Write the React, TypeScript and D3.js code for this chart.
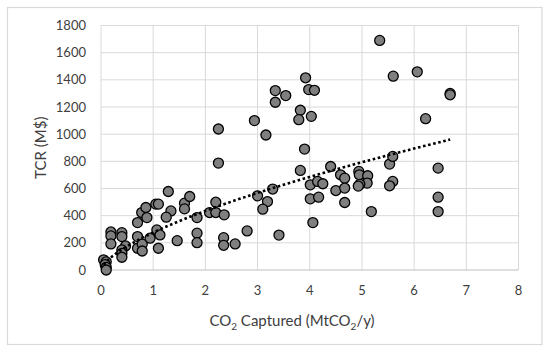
import { useEffect, useRef } from "react";
import * as d3 from "d3";

// CO2 captured (Mt/y) vs total capital requirement (M$)
const capturedX = [
  0.05, 0.1, 0.08, 0.1, 0.1,
  0.19, 0.19, 0.19, 0.4, 0.4, 0.47, 0.4, 0.4, 0.4,
  0.7, 0.7, 0.7, 0.79, 0.79, 0.78, 0.86, 0.88, 0.94, 1.07, 1.13, 1.1, 1.05, 1.1,
  1.29, 1.34, 1.25, 1.46, 1.6, 1.6, 1.7, 1.84, 1.84, 1.84,
  2.25, 2.25, 2.2, 2.08, 2.2, 2.36, 2.35, 2.35, 2.57, 2.8,
  2.94, 3.16, 3.0, 3.29, 3.19, 3.1, 3.34, 3.34, 3.54, 3.41,
  3.92, 3.98, 4.09, 3.82, 3.79, 4.03, 3.9, 3.82, 4.01, 4.15, 4.25, 4.01, 4.17, 4.06,
  4.4, 4.59, 4.67, 4.5, 4.67, 4.67, 4.94, 4.95, 5.11, 5.1, 4.96, 4.93, 5.18,
  5.34, 5.6, 6.06, 6.69, 6.69, 6.22, 5.53, 5.59, 5.59, 5.53, 6.46, 6.46, 6.46,
];
const tcrY = [
  75, 60, 40, 20, 0,
  280, 251, 192, 275, 246, 177, 148, 123, 94,
  349, 246, 160, 190, 140, 423, 460, 386, 234, 295, 258, 160, 485, 485,
  578, 435, 389, 216, 492, 450, 541, 386, 271, 201,
  1038, 787, 499, 423, 423, 406, 238, 182, 192, 288,
  1100, 994, 546, 596, 504, 448, 1321, 1235, 1284, 257,
  1415, 1328, 1323, 1176, 1107, 1131, 890, 733, 627, 652, 635, 524, 536, 349,
  762, 701, 676, 585, 603, 497, 726, 701, 694, 640, 631, 618, 430,
  1690, 1427, 1459, 1300, 1290, 1114, 780, 836, 652, 620, 750, 536, 430,
];
const xTicks = [0, 1, 2, 3, 4, 5, 6, 7, 8];
const yTicks = [0, 200, 400, 600, 800, 1000, 1200, 1400, 1600, 1800];

// power trendline y = a * x^b
const trendA = 276;
const trendB = 0.656;

const W = 550;
const H = 354;
const FONT = "Lato, 'Open Sans', sans-serif";

function drawChart(svgEl: SVGSVGElement) {
  const svg = d3.select(svgEl);
  svg.selectAll("*").remove();

  const left = 101;
  const right = 518.5;
  const top = 25.5;
  const bottom = 270;

  const x = d3.scaleLinear().domain([0, 8]).range([left, right]);
  const y = d3.scaleLinear().domain([0, 1800]).range([bottom, top]);

  // chart area border
  svg
    .append("rect")
    .attr("x", 7.5)
    .attr("y", 7.5)
    .attr("width", 534.5)
    .attr("height", 337)
    .attr("fill", "#fff")
    .attr("stroke", "#d9d9d9")
    .attr("stroke-width", 1.2);

  // gridlines
  svg
    .append("g")
    .selectAll("line")
    .data(yTicks.slice(1))
    .join("line")
    .attr("x1", left)
    .attr("x2", right)
    .attr("y1", (d) => y(d))
    .attr("y2", (d) => y(d))
    .attr("stroke", "#d9d9d9")
    .attr("stroke-width", 1);

  svg
    .append("g")
    .selectAll("line")
    .data(xTicks)
    .join("line")
    .attr("x1", (d) => x(d))
    .attr("x2", (d) => x(d))
    .attr("y1", top)
    .attr("y2", bottom)
    .attr("stroke", "#d9d9d9")
    .attr("stroke-width", 1);

  // x axis line
  svg
    .append("line")
    .attr("x1", left)
    .attr("x2", right)
    .attr("y1", bottom)
    .attr("y2", bottom)
    .attr("stroke", "#bfbfbf")
    .attr("stroke-width", 1);

  // tick labels
  svg
    .append("g")
    .attr("font-family", FONT)
    .attr("font-size", 13)
    .attr("fill", "#404040")
    .attr("text-anchor", "middle")
    .selectAll("text")
    .data(xTicks)
    .join("text")
    .attr("x", (d) => x(d))
    .attr("y", 295)
    .text((d) => d);

  svg
    .append("g")
    .attr("font-family", FONT)
    .attr("font-size", 13)
    .attr("fill", "#404040")
    .attr("text-anchor", "end")
    .selectAll("text")
    .data(yTicks)
    .join("text")
    .attr("x", 86)
    .attr("y", (d) => y(d))
    .attr("dy", "0.35em")
    .text((d) => d);

  // axis titles
  const xt = svg
    .append("text")
    .attr("x", 292)
    .attr("y", 326)
    .attr("font-family", FONT)
    .attr("font-size", 15)
    .attr("fill", "#404040")
    .attr("text-anchor", "middle");
  xt.append("tspan").text("CO");
  xt.append("tspan").attr("font-size", 10).attr("dy", 4).text("2");
  xt.append("tspan").attr("dy", -4).text(" Captured (MtCO");
  xt.append("tspan").attr("font-size", 10).attr("dy", 4).text("2");
  xt.append("tspan").attr("dy", -4).text("/y)");

  svg
    .append("text")
    .attr("transform", `translate(46,${(top + bottom) / 2}) rotate(-90)`)
    .attr("font-family", FONT)
    .attr("font-size", 15)
    .attr("fill", "#404040")
    .attr("text-anchor", "middle")
    .text("TCR (M$)");

  // points
  const pts = capturedX.map((v, i) => [v, tcrY[i]] as [number, number]);
  svg
    .append("g")
    .selectAll("circle")
    .data(pts)
    .join("circle")
    .attr("cx", (d) => x(d[0]))
    .attr("cy", (d) => y(d[1]))
    .attr("r", 5)
    .attr("fill", "#7f7f7f")
    .attr("stroke", "#000")
    .attr("stroke-width", 1.3);

  // power trendline over the data range
  const [x0, x1] = d3.extent(capturedX) as [number, number];
  const xs = d3.range(80).map((i) => x0 + ((x1 - x0) * i) / 79);
  const line = d3
    .line<number>()
    .x((d) => x(d))
    .y((d) => y(trendA * Math.pow(d, trendB)));
  svg
    .append("path")
    .attr("d", line(xs))
    .attr("fill", "none")
    .attr("stroke", "#000")
    .attr("stroke-width", 2.6)
    .attr("stroke-dasharray", "2.6,2.6");
}

export default function App() {
  const ref = useRef<SVGSVGElement>(null);
  useEffect(() => {
    if (ref.current) drawChart(ref.current);
  }, []);
  return (
    <svg
      ref={ref}
      width={W}
      height={H}
      style={{ position: "absolute", left: 0, top: 0, background: "#fff" }}
    />
  );
}
